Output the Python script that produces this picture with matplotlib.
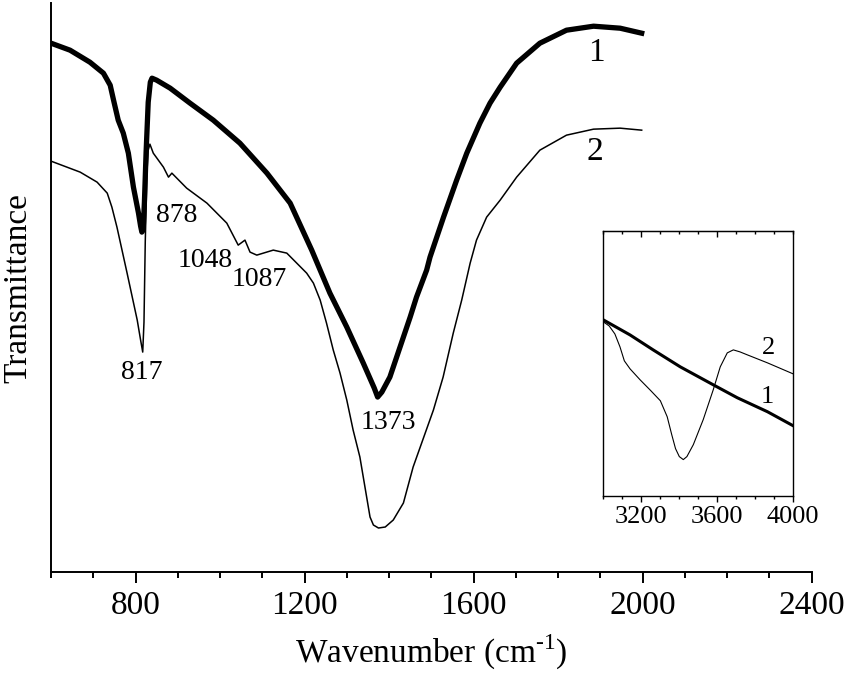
import numpy as np
import matplotlib
matplotlib.use("Agg")
import matplotlib.pyplot as plt
from matplotlib.ticker import MultipleLocator, FixedLocator

plt.rcParams['font.family'] = ['Liberation Serif', 'DejaVu Serif']
plt.rcParams['mathtext.fontset'] = 'custom'
plt.rcParams['mathtext.rm'] = 'Liberation Serif'

# Curva 1 (gruesa) y curva 2 (fina), espectro principal 600-2000 cm-1
wn1 = [600, 645, 692, 724, 740, 748, 759, 771, 783, 795, 807, 812, 815, 818,
       821, 825, 830, 835, 839, 850, 882, 929, 984, 1047, 1111, 1166, 1217,
       1260, 1300, 1339, 1365, 1373, 1383, 1402, 1418, 1434, 1450, 1465, 1489,
       1497, 1529, 1560, 1584, 1615, 1639, 1663, 1702, 1757, 1820, 1884, 1947,
       1998]
t1 = [529, 522, 510, 499, 487, 472, 452, 439, 419, 385, 359, 346, 340, 342,
      370, 420, 470, 490, 494, 492, 484, 469, 452, 429, 399, 369, 322,
      279, 245, 209, 184, 175, 180, 195, 215, 235, 255, 275, 302,
      315, 355, 392, 419, 449, 469, 485, 509, 529, 542, 546, 544,
      539]

wn2 = [600, 669, 709, 733, 744, 756, 780, 804, 812, 817, 820, 823, 827, 830,
       834, 842, 866, 878, 886, 921, 969, 1016, 1043, 1059, 1071, 1087, 1126,
       1158, 1205, 1221, 1237, 1252, 1268, 1284, 1300, 1315, 1331, 1355, 1363,
       1375, 1391, 1410, 1434, 1457, 1505, 1528, 1552, 1572, 1592, 1607, 1631,
       1663, 1702, 1757, 1820, 1884, 1947, 1998]
t2 = [411, 400, 390, 379, 365, 345, 299, 252, 232, 220, 250, 330, 400, 422,
      428, 419, 405, 395, 399, 384, 369, 349, 327, 332, 320, 317, 322,
      319, 299, 289, 272, 249, 222, 199, 172, 142, 115, 55, 47,
      44, 45, 52, 69, 105, 162, 195, 239, 272, 309, 332, 355,
      372, 395, 422, 437, 443, 444, 442]

# Recuadro 3000-4000 cm-1
wn1_in = [3000, 3140, 3262, 3405, 3579, 3706, 3865, 4000]
t1_in = [177, 162, 147, 130, 112, 99, 85, 71]

wn2_in = [3000, 3030, 3060, 3087, 3110, 3140, 3193, 3250, 3300, 3336, 3360,
          3380, 3400, 3421, 3440, 3474, 3526, 3579, 3616, 3653, 3685, 3720,
          3759, 3865, 4000]
t2_in = [175, 171, 163, 150, 136, 128, 117, 106, 96, 80, 62,
         48, 40, 37, 40, 52, 77, 107, 130, 144, 147, 145,
         142, 134, 123]

# Picos marcados
picos = ['878', '1048', '1087', '817', '1373']
picos_x = [898, 964, 1092, 815, 1398]
picos_y = [357, 312, 293, 200, 150]

fig = plt.figure(figsize=(8.45, 6.82), dpi=100)
ax = fig.add_axes([0.0604, 0.1613, 0.900, 0.834])

ax.plot(wn1, t1, color='black', lw=3.8, solid_joinstyle='round')
ax.plot(wn2, t2, color='black', lw=1.1, solid_joinstyle='round')

ax.set_xlim(600, 2400)
ax.set_ylim(0, 569)
ax.spines['top'].set_visible(False)
ax.spines['right'].set_visible(False)
ax.spines['left'].set_linewidth(1.4)
ax.spines['bottom'].set_linewidth(1.4)
ax.set_yticks([])
ax.xaxis.set_major_locator(FixedLocator([800, 1200, 1600, 2000, 2400]))
ax.xaxis.set_minor_locator(MultipleLocator(100))
ax.tick_params(axis='x', which='major', direction='out', length=8, width=1.4,
               labelsize=24, pad=5)
ax.tick_params(axis='x', which='minor', direction='out', length=4.5, width=1.4)
ax.set_xlabel('Wavenumber (cm$^{\\mathrm{\u2010}1}$)', fontsize=24, labelpad=9)
ax.set_ylabel('Transmittance', fontsize=24, labelpad=13)

for txt, px, py in zip(picos, picos_x, picos_y):
    ax.text(px, py, txt, fontsize=20, ha='center', va='center')

ax.text(1892, 519, '1', fontsize=24, ha='center', va='center')
ax.text(1888, 420, '2', fontsize=24, ha='center', va='center')

# Recuadro
ins = fig.add_axes([0.7142, 0.272, 0.2243, 0.389])
ins.plot(wn1_in, t1_in, color='black', lw=2.2)
ins.plot(wn2_in, t2_in, color='black', lw=0.8)
ins.set_xlim(3000, 4000)
ins.set_ylim(0, 266)
ins.set_yticks([])
for s in ins.spines.values():
    s.set_linewidth(1.0)
ins.xaxis.set_major_locator(FixedLocator([3200, 3600, 4000]))
ins.xaxis.set_minor_locator(MultipleLocator(100))
ins.tick_params(axis='x', which='major', direction='out', length=4, width=1.0,
                labelsize=19, pad=3)
ins.tick_params(axis='x', which='minor', direction='out', length=2.5, width=1.0)
top = ins.secondary_xaxis('top')
top.xaxis.set_major_locator(FixedLocator([3200, 3600]))
top.xaxis.set_minor_locator(MultipleLocator(100))
top.tick_params(axis='x', which='major', direction='in', length=4, width=1.0,
                labeltop=False)
top.tick_params(axis='x', which='minor', direction='in', length=2.5, width=1.0)
ins.text(3870, 149, '2', fontsize=19, ha='center', va='center')
ins.text(3865, 100, '1', fontsize=19, ha='center', va='center')

fig.savefig('out.png', dpi=100)
